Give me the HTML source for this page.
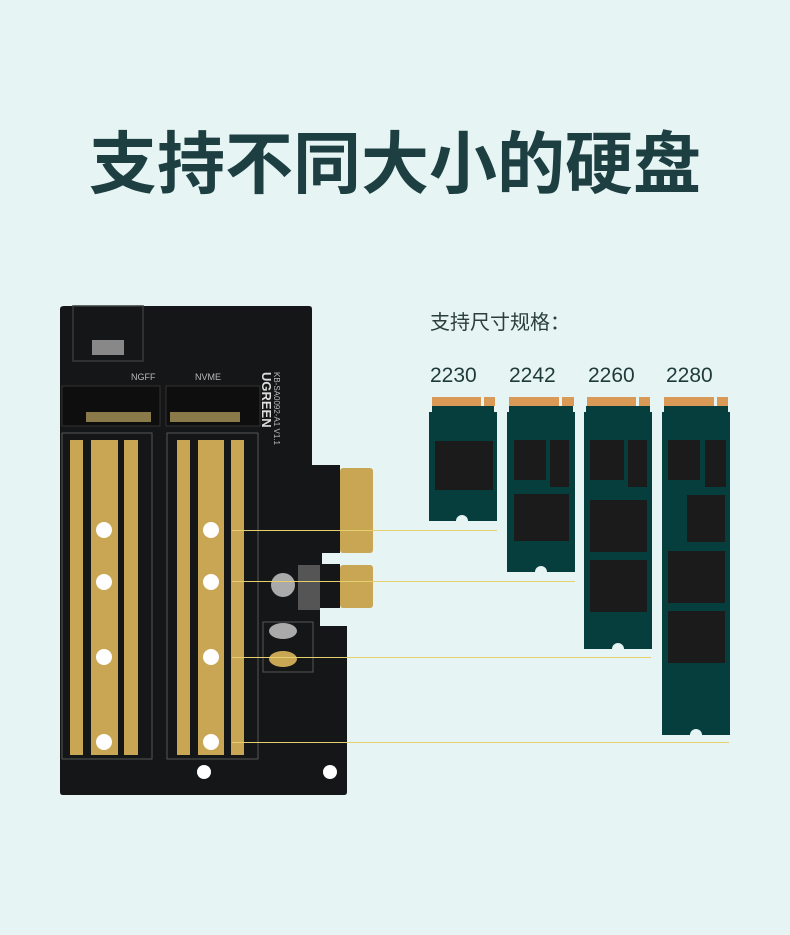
<!DOCTYPE html>
<html><head><meta charset="utf-8"><style>
html,body{margin:0;padding:0;}
body{width:790px;height:935px;background:#e6f4f3;position:relative;overflow:hidden;font-family:"Liberation Sans","Noto Sans CJK SC",sans-serif;}
.t{position:absolute;left:0;width:790px;top:120px;text-align:center;font-size:68px;font-weight:bold;color:#1d3f42;line-height:90px;}
.s{position:absolute;left:430px;top:306px;font-size:20px;color:#2a3e3e;}
.n{position:absolute;top:364px;font-size:21px;color:#1f3a3a;}
</style></head><body>
<div class="t">支持不同大小的硬盘</div>
<div class="s">支持尺寸规格：</div>
<div class="n" style="left:430px">2230</div>
<div class="n" style="left:509px">2242</div>
<div class="n" style="left:588px">2260</div>
<div class="n" style="left:666px">2280</div>
<svg width="790" height="935" style="position:absolute;left:0;top:0">
<path d="M64 306 H309 Q312 306 312 309 V465 H340 V608 H320 V626 H347 V792 Q347 795 344 795 H63 Q60 795 60 792 V309 Q60 306 64 306Z" fill="#151617"/>
<rect x="340" y="468" width="33" height="85" rx="3" fill="#c9a654"/>
<rect x="340" y="565" width="33" height="43" rx="3" fill="#c9a654"/>
<rect x="322" y="553" width="25" height="11" fill="#e6f4f3"/>
<rect x="73" y="306" width="70" height="55" fill="none" stroke="#3a3a3a" stroke-width="1.5"/>
<rect x="92" y="340" width="32" height="15" fill="#888"/>
<rect x="62" y="386" width="98" height="40" fill="#0e0e0e" stroke="#333"/>
<rect x="86" y="412" width="65" height="10" fill="#8a7a4a"/>
<rect x="166" y="386" width="94" height="40" fill="#0e0e0e" stroke="#333"/>
<rect x="170" y="412" width="70" height="10" fill="#8a7a4a"/>
<text x="131" y="380" font-size="9" fill="#bbb" font-family="Liberation Sans">NGFF</text>
<text x="195" y="380" font-size="9" fill="#bbb" font-family="Liberation Sans">NVME</text>
<text transform="translate(262,372) rotate(90)" font-size="13" font-weight="bold" fill="#ddd" font-family="Liberation Sans">UGREEN</text>
<text transform="translate(274,372) rotate(90)" font-size="8" fill="#bbb" font-family="Liberation Sans">KB-SA0092-A1 V1.1</text>
<rect x="62" y="433" width="90" height="326" fill="none" stroke="#555"/>
<rect x="167" y="433" width="91" height="326" fill="none" stroke="#555"/>
<g fill="#c9a654">
<rect x="70" y="440" width="13" height="315"/><rect x="91" y="440" width="27" height="315"/><rect x="124" y="440" width="14" height="315"/>
<rect x="177" y="440" width="13" height="315"/><rect x="198" y="440" width="26" height="315"/><rect x="231" y="440" width="13" height="315"/>
</g>
<g fill="#fff">
<circle cx="104" cy="530" r="8"/><circle cx="104" cy="582" r="8"/><circle cx="104" cy="657" r="8"/><circle cx="104" cy="742" r="8"/>
<circle cx="211" cy="530" r="8"/><circle cx="211" cy="582" r="8"/><circle cx="211" cy="657" r="8"/><circle cx="211" cy="742" r="8"/>
<circle cx="204" cy="772" r="7"/><circle cx="330" cy="772" r="7"/>
</g>
<circle cx="283" cy="585" r="12" fill="#aaa"/>
<rect x="263" y="622" width="50" height="50" fill="none" stroke="#555"/>
<ellipse cx="283" cy="631" rx="14" ry="8" fill="#aaa"/>
<ellipse cx="283" cy="659" rx="14" ry="8" fill="#c9a654"/>
<rect x="298" y="565" width="22" height="45" fill="#555"/>
<g stroke="#e6cf6e" stroke-width="1">
<line x1="232" y1="530.5" x2="497" y2="530.5"/>
<line x1="232" y1="581.5" x2="575" y2="581.5"/>
<line x1="232" y1="657.5" x2="651" y2="657.5"/>
<line x1="232" y1="742.5" x2="729" y2="742.5"/>
</g>
<g>
<rect x="432" y="397" width="63" height="9" fill="#d99a58"/><rect x="481" y="397" width="3" height="10" fill="#e6f4f3"/>
<path d="M429 412 H497 V521 H468 A6 6 0 0 0 456 521 H429Z" fill="#063e3e"/><rect x="432" y="406" width="62" height="7" fill="#063e3e"/>
<rect x="435" y="441" width="58" height="49" fill="#1b1b1b"/>
<rect x="509" y="397" width="65" height="9" fill="#d99a58"/><rect x="559" y="397" width="3" height="10" fill="#e6f4f3"/>
<path d="M507 412 H575 V572 H547 A6 6 0 0 0 535 572 H507Z" fill="#063e3e"/><rect x="509" y="406" width="64" height="7" fill="#063e3e"/>
<rect x="514" y="440" width="32" height="40" fill="#1b1b1b"/><rect x="550" y="440" width="19" height="47" fill="#1b1b1b"/><rect x="514" y="494" width="55" height="47" fill="#1b1b1b"/>
<rect x="587" y="397" width="63" height="9" fill="#d99a58"/><rect x="636" y="397" width="3" height="10" fill="#e6f4f3"/>
<path d="M584 412 H652 V649 H624 A6 6 0 0 0 612 649 H584Z" fill="#063e3e"/><rect x="586" y="406" width="64" height="7" fill="#063e3e"/>
<rect x="590" y="440" width="34" height="40" fill="#1b1b1b"/><rect x="628" y="440" width="19" height="47" fill="#1b1b1b"/><rect x="590" y="500" width="57" height="52" fill="#1b1b1b"/><rect x="590" y="560" width="57" height="52" fill="#1b1b1b"/>
<rect x="664" y="397" width="64" height="9" fill="#d99a58"/><rect x="714" y="397" width="3" height="10" fill="#e6f4f3"/>
<path d="M662 412 H730 V735 H702 A6 6 0 0 0 690 735 H662Z" fill="#063e3e"/><rect x="664" y="406" width="64" height="7" fill="#063e3e"/>
<rect x="668" y="440" width="32" height="40" fill="#1b1b1b"/><rect x="705" y="440" width="21" height="47" fill="#1b1b1b"/><rect x="687" y="495" width="38" height="47" fill="#1b1b1b"/><rect x="668" y="551" width="57" height="52" fill="#1b1b1b"/><rect x="668" y="611" width="57" height="52" fill="#1b1b1b"/>
</g>
</svg>
</body></html>
